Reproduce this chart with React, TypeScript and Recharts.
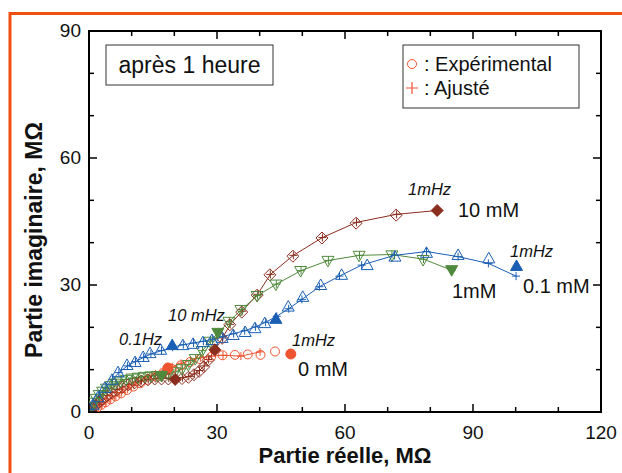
import React from "react";
import { ScatterChart, Scatter, XAxis, YAxis, ReferenceArea } from "recharts";

// Nyquist plot after 1 hour: [Z' (MΩ), -Z'' (MΩ)]
const redExp = [
  [0.5, 0.2], [1.2, 0.6], [2.0, 1.1], [2.9, 1.7], [3.9, 2.3], [5.0, 3.0], [6.2, 3.7], [7.5, 4.4],
  [8.9, 5.2], [10.4, 6.0], [12.0, 6.8], [13.7, 7.6], [15.5, 8.4], [17.4, 9.3], [19.4, 10.2],
  [21.5, 11.0], [23.7, 11.8], [26.0, 12.5], [28.6, 13.0], [31.3, 13.4], [34.2, 13.5], [37.2, 13.6],
  [40.2, 13.5], [43.6, 14.3],
];
const redFit = [
  [0.6, 0.3], [1.3, 0.7], [2.1, 1.2], [3.0, 1.8], [4.0, 2.4], [5.1, 3.1], [6.3, 3.8], [7.6, 4.6],
  [9.0, 5.4], [10.5, 6.3], [12.1, 7.2], [13.8, 8.1], [15.6, 9.0], [17.5, 9.9], [19.5, 10.7],
  [21.6, 11.5], [23.8, 12.2], [26.1, 12.8], [28.7, 13.2], [31.4, 13.4], [35.6, 13.2], [40.1, 14.2],
];
const redMarks = [[18.5, 10.4], [47.3, 13.7]];

const blueExp = [
  [0.2, 0.5], [0.9, 1.7], [2.1, 3.5], [3.7, 5.7], [5.4, 7.6], [6.8, 9.4], [8.9, 11.1], [10.8, 11.8],
  [12.7, 13.0], [14.3, 13.9], [16.8, 14.7], [22.0, 15.8], [24.4, 16.1], [26.7, 16.5], [28.8, 17.0],
  [31.2, 17.5], [33.8, 18.2], [36.6, 18.9], [38.9, 19.8], [41.2, 21.0], [46.7, 24.9], [50.1, 27.2],
  [54.3, 30.0], [59.2, 32.4], [65.2, 34.7], [71.7, 36.7], [79.1, 37.6], [86.5, 37.1], [93.7, 36.3],
];
const blueFit = [
  [0.3, 0.6], [1.0, 1.9], [2.2, 3.7], [3.8, 5.8], [5.5, 7.7], [7.0, 9.3], [9.0, 10.9], [10.9, 11.9],
  [12.8, 12.9], [14.5, 13.7], [17.0, 14.5], [19.6, 15.3], [22.1, 15.9], [24.5, 16.3], [26.8, 16.7],
  [29.0, 17.2], [31.4, 17.8], [33.9, 18.5], [36.5, 19.2], [39.0, 20.1], [41.4, 21.2], [44.0, 22.6],
  [46.8, 24.4], [49.9, 26.6], [54.0, 29.6], [58.7, 32.1], [63.9, 34.7], [71.6, 37.0], [79.1, 37.9],
  [86.5, 36.7], [93.6, 35.1], [100.1, 32.1],
];
const blueMarks = [[19.5, 15.8], [43.8, 22.0], [100.2, 34.5]];

const greenExp = [
  [0.2, 0.3], [0.6, 1.2], [1.1, 2.2], [1.7, 3.1], [2.4, 4.0], [3.2, 4.8], [4.1, 5.5], [5.1, 6.1],
  [6.2, 6.7], [7.4, 7.2], [8.7, 7.6], [10.1, 7.9], [11.5, 8.1], [13.0, 8.3], [14.5, 8.4], [16.0, 8.5],
  [18.6, 8.9], [20.2, 9.4], [21.8, 10.1], [23.3, 11.1], [24.9, 12.5], [26.5, 14.4], [28.4, 16.6],
  [32.8, 21.3], [35.6, 24.1], [39.4, 27.4], [43.8, 30.1], [49.6, 33.3], [56.0, 35.7], [63.3, 36.9],
  [71.0, 37.0], [78.3, 35.9],
];
const greenFit = [
  [0.3, 0.4], [0.7, 1.3], [1.2, 2.3], [1.8, 3.2], [2.5, 4.1], [3.3, 4.9], [4.2, 5.6], [5.2, 6.2],
  [6.3, 6.8], [7.5, 7.3], [8.8, 7.7], [10.2, 8.0], [11.6, 8.2], [13.1, 8.4], [14.6, 8.5], [16.1, 8.6],
  [18.7, 9.0], [20.3, 9.5], [21.9, 10.2], [23.4, 11.2], [25.0, 12.6], [26.6, 14.5], [28.5, 16.7],
  [30.4, 18.9], [32.9, 21.4], [35.7, 24.2], [39.5, 27.5], [43.9, 30.2], [49.7, 33.4], [56.1, 35.8],
  [63.4, 37.0], [71.0, 37.2], [78.4, 36.1], [85.0, 33.5],
];
const greenMarks = [[17.0, 8.5], [30.2, 18.7], [85.0, 33.5]];

const brownExp = [
  [0.3, 0.2], [0.8, 0.8], [1.5, 1.5], [2.3, 2.2], [3.2, 3.0], [4.2, 3.8], [5.3, 4.5], [6.5, 5.2],
  [7.8, 5.8], [9.2, 6.4], [10.7, 6.9], [12.2, 7.3], [13.8, 7.6], [15.4, 7.8], [17.0, 7.8], [18.6, 7.8],
  [21.8, 7.9], [23.3, 8.2], [24.6, 8.8], [25.8, 9.6], [26.9, 10.7], [27.9, 12.2], [31.2, 17.4],
  [33.0, 20.6], [35.8, 23.6], [39.4, 27.6], [42.4, 32.4], [47.8, 36.8], [54.6, 41.1], [62.6, 44.6],
  [72.0, 46.5],
];
const brownFit = [
  [0.4, 0.3], [0.9, 0.9], [1.6, 1.6], [2.4, 2.3], [3.3, 3.1], [4.3, 3.9], [5.4, 4.6], [6.6, 5.3],
  [7.9, 5.9], [9.3, 6.5], [10.8, 7.0], [12.3, 7.4], [13.9, 7.7], [15.5, 7.9], [17.1, 8.0], [18.7, 8.0],
  [20.3, 8.0], [21.9, 8.1], [23.4, 8.4], [24.7, 9.0], [25.9, 9.8], [27.0, 10.9], [28.0, 12.4],
  [29.6, 14.8], [31.3, 17.5], [33.1, 20.7], [35.9, 23.8], [39.5, 27.8], [42.5, 32.5], [47.9, 37.0],
  [54.7, 41.2], [62.7, 44.8], [72.1, 46.7], [81.6, 47.6],
];
const brownMarks = [[20.2, 7.7], [29.5, 14.7], [81.6, 47.6]];

const xTicks = [0, 10, 20, 30, 40, 50, 60, 70, 80, 90, 100, 110, 120];
const yTicks = [0, 10, 20, 30, 40, 50, 60, 70, 80, 90];

const W = 622;
const H = 473;
const LEFT = 89;
const RIGHT = 601;
const TOP = 31;
const BOTTOM = 412;

const RED = "#ee5430";
const BLUE = "#1b5fb4";
const GREEN = "#4f8a3c";
const BROWN = "#8b2e1e";
const FONT = "'Liberation Sans', Arial, Helvetica, sans-serif";

const toPts = (a: number[][]) => a.map(([x, y]) => ({ x, y }));

const circle = (c: string, filled = false) => (p: any) =>
  <circle cx={p.cx} cy={p.cy} r={filled ? 5 : 4.5} fill={filled ? c : "none"} stroke={c} strokeWidth={1} />;
const triUp = (c: string, filled = false) => (p: any) =>
  <path d={`M${p.cx},${p.cy - 6}L${p.cx + 6},${p.cy + 4.5}L${p.cx - 6},${p.cy + 4.5}Z`}
    fill={filled ? c : "none"} stroke={c} strokeWidth={1} />;
const triDown = (c: string, filled = false) => (p: any) =>
  <path d={`M${p.cx - 6},${p.cy - 4.5}L${p.cx + 6},${p.cy - 4.5}L${p.cx},${p.cy + 6}Z`}
    fill={filled ? c : "none"} stroke={c} strokeWidth={1} />;
const diamond = (c: string, filled = false) => (p: any) =>
  <path d={`M${p.cx},${p.cy - 6}L${p.cx + 6},${p.cy}L${p.cx},${p.cy + 6}L${p.cx - 6},${p.cy}Z`}
    fill={filled ? c : "none"} stroke={c} strokeWidth={1} />;
const plus = (c: string) => (p: any) =>
  <path d={`M${p.cx - 4},${p.cy}H${p.cx + 4}M${p.cx},${p.cy - 4}V${p.cy + 4}`} stroke={c} strokeWidth={1} fill="none" />;

const XTick = (p: any) => {
  const major = p.payload.value % 30 === 0;
  const len = major ? 8 : 5;
  return (
    <g>
      <line x1={p.x} x2={p.x} y1={BOTTOM} y2={BOTTOM - len} stroke="#000" strokeWidth={1.5} />
      <line x1={p.x} x2={p.x} y1={TOP} y2={TOP + len} stroke="#000" strokeWidth={1.5} />
      {major && (
        <text x={p.x} y={BOTTOM + 27} textAnchor="middle" fontSize={19} fontFamily={FONT} fill="#111">
          {p.payload.value}
        </text>
      )}
    </g>
  );
};

const YTick = (p: any) => {
  const major = p.payload.value % 30 === 0;
  const len = major ? 8 : 5;
  return (
    <g>
      <line x1={LEFT} x2={LEFT + len} y1={p.y} y2={p.y} stroke="#000" strokeWidth={1.5} />
      <line x1={RIGHT} x2={RIGHT - len} y1={p.y} y2={p.y} stroke="#000" strokeWidth={1.5} />
      {major && (
        <text x={LEFT - 8} y={p.y + 6} textAnchor="end" fontSize={19} fontFamily={FONT} fill="#111">
          {p.payload.value}
        </text>
      )}
    </g>
  );
};

const series = [
  { exp: redExp, fit: redFit, marks: redMarks, c: RED, shape: circle },
  { exp: brownExp, fit: brownFit, marks: brownMarks, c: BROWN, shape: diamond },
  { exp: greenExp, fit: greenFit, marks: greenMarks, c: GREEN, shape: triDown },
  { exp: blueExp, fit: blueFit, marks: blueMarks, c: BLUE, shape: triUp },
];

export default function App() {
  return (
    <div style={{ position: "relative", width: W, height: H, background: "#fff" }}>
      <style>{"body{margin:0}"}</style>
      <ScatterChart width={W} height={H} margin={{ top: TOP, right: W - RIGHT, bottom: 31, left: 29 }}>
        <XAxis type="number" dataKey="x" domain={[0, 120]} ticks={xTicks} interval={0}
          axisLine={false} tickLine={false} height={30} tick={<XTick />} allowDataOverflow />
        <YAxis type="number" dataKey="y" domain={[0, 90]} ticks={yTicks} interval={0}
          axisLine={false} tickLine={false} width={60} tick={<YTick />} allowDataOverflow />
        <ReferenceArea x1={0} x2={120} y1={0} y2={90} fill="none" stroke="#000" strokeWidth={2} ifOverflow="visible" />
        {series.map((s, i) => (
          <Scatter key={"f" + i} data={toPts(s.fit)} line={{ stroke: s.c, strokeWidth: 1 }}
            shape={plus(s.c)} isAnimationActive={false} />
        ))}
        {series.map((s, i) => (
          <Scatter key={"e" + i} data={toPts(s.exp)} shape={s.shape(s.c)} isAnimationActive={false} />
        ))}
        {series.map((s, i) => (
          <Scatter key={"m" + i} data={toPts(s.marks)} shape={s.shape(s.c, true)} isAnimationActive={false} />
        ))}
      </ScatterChart>
      <svg width={W} height={H} style={{ position: "absolute", left: 0, top: 0, pointerEvents: "none" }}
        fontFamily={FONT}>
        <path d={`M10,${H}V13.5H${W}`} fill="none" stroke="#f0500f" strokeWidth={3} />
        <text x={345} y={463} textAnchor="middle" fontSize={22} fontWeight="bold" fill="#111">
          Partie réelle, MΩ
        </text>
        <text transform="translate(42,240) rotate(-90)" textAnchor="middle" fontSize={23} fontWeight="bold" fill="#111">
          Partie imaginaire, MΩ
        </text>
        <rect x={106} y={45} width={167} height={40} fill="#fff" stroke="#333" strokeWidth={1} />
        <text x={189.5} y={73} textAnchor="middle" fontSize={23} fill="#111">après 1 heure</text>
        <rect x={403} y={45} width={176} height={63} fill="#fff" stroke="#333" strokeWidth={1} />
        <circle cx={412} cy={64} r={4.5} fill="none" stroke={RED} strokeWidth={1} />
        <text x={424} y={71} fontSize={20} fill="#111">: Expérimental</text>
        <path d="M406,88H418M412,82V94" stroke={RED} strokeWidth={1.2} />
        <text x={424} y={95} fontSize={20} fill="#111">: Ajusté</text>
        <text x={408} y={195} fontSize={16.5} fontStyle="italic" fill="#111">1mHz</text>
        <text x={458} y={217} fontSize={20} fill="#111">10 mM</text>
        <text x={510} y={257} fontSize={16.5} fontStyle="italic" fill="#111">1mHz</text>
        <text x={523} y={293} fontSize={20} fill="#111">0.1 mM</text>
        <text x={452} y={298} fontSize={20} fill="#111">1mM</text>
        <text x={168} y={321} fontSize={16.5} fontStyle="italic" fill="#111">10 mHz</text>
        <text x={119} y={345} fontSize={16.5} fontStyle="italic" fill="#111">0.1Hz</text>
        <text x={292} y={346} fontSize={16.5} fontStyle="italic" fill="#111">1mHz</text>
        <text x={298} y={376} fontSize={20} fill="#111">0 mM</text>
      </svg>
    </div>
  );
}
